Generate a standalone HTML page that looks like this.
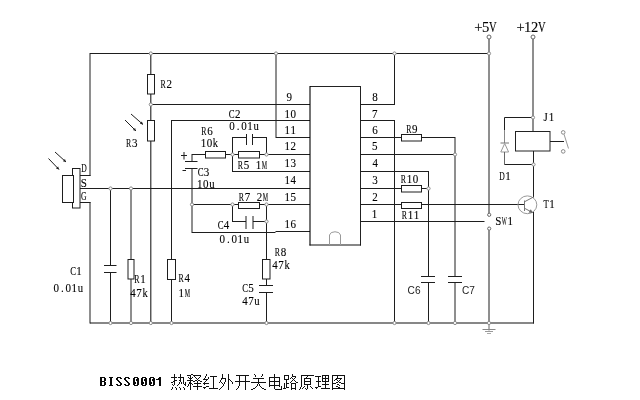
<!DOCTYPE html>
<html><head><meta charset="utf-8"><style>
html,body{margin:0;padding:0;background:#fff;width:640px;height:400px;overflow:hidden}
svg{display:block}
text{font-family:"Liberation Serif",serif;fill:#000;stroke:#000;stroke-width:0.12px}
</style></head><body><svg width="640" height="400" viewBox="0 0 640 400"><line x1="90" y1="53.5" x2="489" y2="53.5" stroke="#1e1e1e" stroke-width="1"/><line x1="90" y1="53" x2="90" y2="176" stroke="#1e1e1e" stroke-width="1"/><line x1="80" y1="175.5" x2="90.5" y2="175.5" stroke="#1e1e1e" stroke-width="1"/><line x1="80" y1="188.5" x2="310" y2="188.5" stroke="#1e1e1e" stroke-width="1"/><line x1="80" y1="202.5" x2="90.5" y2="202.5" stroke="#1e1e1e" stroke-width="1"/><line x1="90" y1="202" x2="90" y2="323.5" stroke="#1e1e1e" stroke-width="1"/><line x1="90" y1="323" x2="534" y2="323" stroke="#111" stroke-width="1.1"/><rect x="72.5" y="168.5" width="7.5" height="39.5" fill="#fff" stroke="#1e1e1e" stroke-width="1"/><rect x="62.5" y="175.5" width="11" height="27" fill="#fff" stroke="#1e1e1e" stroke-width="1"/><line x1="55" y1="152" x2="66" y2="162" stroke="#1e1e1e" stroke-width="1"/><polygon points="66,162 62.89,161.25 64.95,158.98" fill="#1e1e1e"/><line x1="48.5" y1="158.5" x2="59" y2="169.5" stroke="#1e1e1e" stroke-width="1"/><polygon points="59,169.5 55.95,168.53 58.17,166.41" fill="#1e1e1e"/><line x1="150.8" y1="53" x2="150.8" y2="323.5" stroke="#1e1e1e" stroke-width="1.1"/><rect x="147.5" y="74.5" width="7" height="19.5" fill="#fff" stroke="#1e1e1e" stroke-width="1"/><rect x="147.5" y="120.5" width="7" height="20.5" fill="#fff" stroke="#1e1e1e" stroke-width="1"/><line x1="131" y1="114" x2="143" y2="124.5" stroke="#1e1e1e" stroke-width="1"/><polygon points="143,124.5 139.88,123.81 141.90,121.50" fill="#1e1e1e"/><line x1="125" y1="120" x2="136" y2="131" stroke="#1e1e1e" stroke-width="1"/><polygon points="136,131 132.93,130.10 135.10,127.93" fill="#1e1e1e"/><line x1="150.8" y1="104.5" x2="310" y2="104.5" stroke="#1e1e1e" stroke-width="1"/><line x1="171.5" y1="120.5" x2="310" y2="120.5" stroke="#1e1e1e" stroke-width="1"/><line x1="171.5" y1="120" x2="171.5" y2="323.5" stroke="#1e1e1e" stroke-width="1"/><rect x="167.5" y="259.5" width="8" height="20" fill="#fff" stroke="#1e1e1e" stroke-width="1"/><line x1="276" y1="53" x2="276" y2="138" stroke="#1e1e1e" stroke-width="1"/><line x1="276" y1="137.5" x2="310" y2="137.5" stroke="#1e1e1e" stroke-width="1"/><line x1="110.5" y1="188" x2="110.5" y2="265.5" stroke="#1e1e1e" stroke-width="1"/><line x1="110.5" y1="272.5" x2="110.5" y2="323" stroke="#1e1e1e" stroke-width="1"/><line x1="104" y1="265.5" x2="116.5" y2="265.5" stroke="#1e1e1e" stroke-width="1"/><line x1="104" y1="272.5" x2="116.5" y2="272.5" stroke="#1e1e1e" stroke-width="1"/><line x1="131" y1="188" x2="131" y2="323" stroke="#1e1e1e" stroke-width="1"/><rect x="128" y="259.5" width="6" height="19.5" fill="#fff" stroke="#1e1e1e" stroke-width="1"/><line x1="192" y1="154.5" x2="310" y2="154.5" stroke="#1e1e1e" stroke-width="1"/><rect x="205.5" y="151.5" width="20" height="6.5" fill="#fff" stroke="#1e1e1e" stroke-width="1"/><rect x="238.5" y="151.5" width="21" height="6.5" fill="#fff" stroke="#1e1e1e" stroke-width="1"/><line x1="232.5" y1="137" x2="232.5" y2="171.5" stroke="#1e1e1e" stroke-width="1"/><line x1="232" y1="171.5" x2="310" y2="171.5" stroke="#1e1e1e" stroke-width="1"/><line x1="266.5" y1="137" x2="266.5" y2="154.5" stroke="#1e1e1e" stroke-width="1"/><line x1="232" y1="137.5" x2="246.5" y2="137.5" stroke="#1e1e1e" stroke-width="1"/><line x1="252.5" y1="137.5" x2="266.5" y2="137.5" stroke="#1e1e1e" stroke-width="1"/><line x1="246.5" y1="134" x2="246.5" y2="145" stroke="#1e1e1e" stroke-width="1"/><line x1="252.5" y1="134" x2="252.5" y2="145" stroke="#1e1e1e" stroke-width="1"/><line x1="192" y1="154" x2="192" y2="161.5" stroke="#1e1e1e" stroke-width="1"/><line x1="185" y1="161.5" x2="197.5" y2="161.5" stroke="#1e1e1e" stroke-width="1"/><line x1="185" y1="168.5" x2="197.5" y2="168.5" stroke="#1e1e1e" stroke-width="1"/><line x1="192" y1="168" x2="192" y2="233" stroke="#1e1e1e" stroke-width="1"/><line x1="181" y1="155.5" x2="187" y2="155.5" stroke="#1e1e1e" stroke-width="1"/><line x1="184" y1="152" x2="184" y2="159.5" stroke="#1e1e1e" stroke-width="1"/><line x1="182.5" y1="170.5" x2="186" y2="170.5" stroke="#1e1e1e" stroke-width="1"/><line x1="192" y1="204.5" x2="310" y2="204.5" stroke="#1e1e1e" stroke-width="1"/><rect x="238.5" y="202.5" width="21" height="6" fill="#fff" stroke="#1e1e1e" stroke-width="1"/><line x1="232.5" y1="204.5" x2="232.5" y2="222" stroke="#1e1e1e" stroke-width="1"/><line x1="232" y1="221.5" x2="246" y2="221.5" stroke="#1e1e1e" stroke-width="1"/><line x1="246" y1="216" x2="246" y2="229" stroke="#1e1e1e" stroke-width="1"/><line x1="253" y1="216" x2="253" y2="229" stroke="#1e1e1e" stroke-width="1"/><line x1="253" y1="221.5" x2="266.5" y2="221.5" stroke="#1e1e1e" stroke-width="1"/><line x1="266.5" y1="204.5" x2="266.5" y2="285.5" stroke="#1e1e1e" stroke-width="1"/><line x1="266.5" y1="292.5" x2="266.5" y2="323.5" stroke="#1e1e1e" stroke-width="1"/><rect x="262.5" y="259.5" width="7.5" height="19.5" fill="#fff" stroke="#1e1e1e" stroke-width="1"/><line x1="259" y1="285.5" x2="273" y2="285.5" stroke="#1e1e1e" stroke-width="1"/><line x1="259" y1="292.5" x2="273" y2="292.5" stroke="#1e1e1e" stroke-width="1"/><line x1="192" y1="232.5" x2="275.5" y2="232.5" stroke="#1e1e1e" stroke-width="1"/><line x1="275.5" y1="231.5" x2="310" y2="231.5" stroke="#1e1e1e" stroke-width="1"/><line x1="310" y1="86.5" x2="360.5" y2="86.5" stroke="#222" stroke-width="1"/><line x1="310" y1="86" x2="310" y2="245.5" stroke="#000" stroke-width="1.1"/><line x1="360.5" y1="86" x2="360.5" y2="245.5" stroke="#222" stroke-width="1"/><line x1="309.5" y1="245" x2="361" y2="245" stroke="#111" stroke-width="1.1"/><path d="M329.5,245 V235 A5.6,4 0 0 1 340.5,235 V245" fill="none" stroke="#999" stroke-width="1"/><line x1="360" y1="104.5" x2="394.5" y2="104.5" stroke="#1e1e1e" stroke-width="1"/><line x1="394.5" y1="53" x2="394.5" y2="105" stroke="#1e1e1e" stroke-width="1"/><line x1="360" y1="120.5" x2="394.5" y2="120.5" stroke="#1e1e1e" stroke-width="1"/><line x1="394.5" y1="120" x2="394.5" y2="323.5" stroke="#1e1e1e" stroke-width="1"/><line x1="360" y1="137.5" x2="455" y2="137.5" stroke="#1e1e1e" stroke-width="1"/><rect x="401.5" y="134.5" width="20" height="6.5" fill="#fff" stroke="#1e1e1e" stroke-width="1"/><line x1="360" y1="154.5" x2="455" y2="154.5" stroke="#1e1e1e" stroke-width="1"/><line x1="455" y1="137" x2="455" y2="276.5" stroke="#1e1e1e" stroke-width="1"/><line x1="455" y1="282.5" x2="455" y2="323.5" stroke="#1e1e1e" stroke-width="1"/><line x1="448" y1="276.5" x2="462" y2="276.5" stroke="#1e1e1e" stroke-width="1"/><line x1="448" y1="282.5" x2="462" y2="282.5" stroke="#1e1e1e" stroke-width="1"/><line x1="360" y1="171.5" x2="428.5" y2="171.5" stroke="#1e1e1e" stroke-width="1"/><line x1="428.5" y1="171" x2="428.5" y2="276.5" stroke="#1e1e1e" stroke-width="1"/><line x1="428.5" y1="282.5" x2="428.5" y2="323.5" stroke="#1e1e1e" stroke-width="1"/><line x1="421" y1="276.5" x2="435" y2="276.5" stroke="#1e1e1e" stroke-width="1"/><line x1="421" y1="282.5" x2="435" y2="282.5" stroke="#1e1e1e" stroke-width="1"/><line x1="360" y1="188.5" x2="428.5" y2="188.5" stroke="#1e1e1e" stroke-width="1"/><rect x="401.5" y="185.5" width="20" height="6.5" fill="#fff" stroke="#1e1e1e" stroke-width="1"/><line x1="360" y1="204.5" x2="524.5" y2="204.5" stroke="#1e1e1e" stroke-width="1"/><rect x="401.5" y="202.5" width="20" height="6" fill="#fff" stroke="#1e1e1e" stroke-width="1"/><line x1="360" y1="221.5" x2="484.5" y2="221.5" stroke="#1e1e1e" stroke-width="1"/><line x1="489" y1="39" x2="489" y2="213.2" stroke="#1e1e1e" stroke-width="1"/><line x1="489" y1="230.2" x2="489" y2="323.5" stroke="#1e1e1e" stroke-width="1"/><circle cx="489" cy="37" r="2" fill="#fff" stroke="#666" stroke-width="1"/><circle cx="489.2" cy="214.8" r="1.6" fill="#fff" stroke="#666" stroke-width="1"/><circle cx="489.2" cy="228.6" r="1.6" fill="#fff" stroke="#666" stroke-width="1"/><line x1="489" y1="324" x2="489" y2="330.5" stroke="#666" stroke-width="1"/><line x1="482.5" y1="329.5" x2="495.5" y2="329.5" stroke="#888" stroke-width="1"/><line x1="485" y1="331.5" x2="493" y2="331.5" stroke="#999" stroke-width="1"/><line x1="487" y1="333.5" x2="491" y2="333.5" stroke="#aaa" stroke-width="1"/><line x1="533" y1="39" x2="533" y2="131.5" stroke="#1e1e1e" stroke-width="1"/><circle cx="533" cy="37" r="2" fill="#fff" stroke="#666" stroke-width="1"/><line x1="504.5" y1="117.5" x2="533" y2="117.5" stroke="#1e1e1e" stroke-width="1"/><line x1="504.5" y1="117.5" x2="504.5" y2="130.5" stroke="#1e1e1e" stroke-width="1"/><line x1="504.5" y1="130.5" x2="504.5" y2="143" stroke="#888" stroke-width="1"/><line x1="500.5" y1="143" x2="509" y2="143" stroke="#777" stroke-width="1"/><polygon points="504.7,143.5 500.8,152 508.6,152" fill="#fff" stroke="#999" stroke-width="1"/><line x1="504.5" y1="152" x2="504.5" y2="164.5" stroke="#666" stroke-width="1"/><line x1="504.5" y1="164.5" x2="533.5" y2="164.5" stroke="#1e1e1e" stroke-width="1"/><rect x="515.5" y="131.5" width="34.5" height="19.5" fill="#fff" stroke="#222" stroke-width="1"/><line x1="533.5" y1="151" x2="533.5" y2="197.5" stroke="#1e1e1e" stroke-width="1"/><line x1="550" y1="141.5" x2="564" y2="141.5" stroke="#1e1e1e" stroke-width="1"/><circle cx="563.2" cy="132.4" r="1.8" fill="#fff" stroke="#888" stroke-width="1"/><circle cx="563.2" cy="151.4" r="1.8" fill="#fff" stroke="#888" stroke-width="1"/><line x1="564" y1="134.2" x2="568.5" y2="148.5" stroke="#999" stroke-width="1"/><ellipse cx="527.4" cy="204.8" rx="9.4" ry="8.9" fill="none" stroke="#999" stroke-width="1"/><line x1="524.5" y1="200.5" x2="524.5" y2="211" stroke="#777" stroke-width="1"/><line x1="525" y1="201.5" x2="533.5" y2="197" stroke="#777" stroke-width="1"/><line x1="525" y1="208.5" x2="532.5" y2="212.5" stroke="#777" stroke-width="1"/><polygon points="533,213 528.6,212.4 530.8,209.2" fill="#666"/><line x1="533.5" y1="212" x2="533.5" y2="323.5" stroke="#1e1e1e" stroke-width="1"/><circle cx="150.8" cy="53.5" r="1.6" fill="#fff" stroke="#8a8a8a" stroke-width="1"/><circle cx="276" cy="53.5" r="1.6" fill="#fff" stroke="#8a8a8a" stroke-width="1"/><circle cx="394.5" cy="53.5" r="1.6" fill="#fff" stroke="#8a8a8a" stroke-width="1"/><circle cx="489" cy="53.5" r="1.6" fill="#fff" stroke="#8a8a8a" stroke-width="1"/><circle cx="150.8" cy="104.5" r="1.6" fill="#fff" stroke="#8a8a8a" stroke-width="1"/><circle cx="110.5" cy="188.5" r="1.6" fill="#fff" stroke="#8a8a8a" stroke-width="1"/><circle cx="131" cy="188.5" r="1.6" fill="#fff" stroke="#8a8a8a" stroke-width="1"/><circle cx="232.5" cy="154.5" r="1.6" fill="#fff" stroke="#8a8a8a" stroke-width="1"/><circle cx="266.5" cy="154.5" r="1.6" fill="#fff" stroke="#8a8a8a" stroke-width="1"/><circle cx="192" cy="204.5" r="1.6" fill="#fff" stroke="#8a8a8a" stroke-width="1"/><circle cx="232.5" cy="204.5" r="1.6" fill="#fff" stroke="#8a8a8a" stroke-width="1"/><circle cx="266.5" cy="204.5" r="1.6" fill="#fff" stroke="#8a8a8a" stroke-width="1"/><circle cx="266.5" cy="221.5" r="1.6" fill="#fff" stroke="#8a8a8a" stroke-width="1"/><circle cx="455" cy="154.5" r="1.6" fill="#fff" stroke="#8a8a8a" stroke-width="1"/><circle cx="428.5" cy="188.5" r="1.6" fill="#fff" stroke="#8a8a8a" stroke-width="1"/><circle cx="533" cy="117.5" r="1.6" fill="#fff" stroke="#8a8a8a" stroke-width="1"/><circle cx="533.5" cy="164.5" r="1.6" fill="#fff" stroke="#8a8a8a" stroke-width="1"/><circle cx="110.5" cy="323" r="1.6" fill="#fff" stroke="#8a8a8a" stroke-width="1"/><circle cx="131" cy="323" r="1.6" fill="#fff" stroke="#8a8a8a" stroke-width="1"/><circle cx="150.8" cy="323" r="1.6" fill="#fff" stroke="#8a8a8a" stroke-width="1"/><circle cx="171.5" cy="323" r="1.6" fill="#fff" stroke="#8a8a8a" stroke-width="1"/><circle cx="266.5" cy="323" r="1.6" fill="#fff" stroke="#8a8a8a" stroke-width="1"/><circle cx="394.5" cy="323" r="1.6" fill="#fff" stroke="#8a8a8a" stroke-width="1"/><circle cx="428.5" cy="323" r="1.6" fill="#fff" stroke="#8a8a8a" stroke-width="1"/><circle cx="455" cy="323" r="1.6" fill="#fff" stroke="#8a8a8a" stroke-width="1"/><circle cx="489" cy="323" r="1.6" fill="#fff" stroke="#8a8a8a" stroke-width="1"/><path d="M174,374h1v1h-1zM180,374h1v1h-1zM191,374h2v1h-2zM206,374h1v1h-1zM222,374h1v1h-1zM228,374h1v1h-1zM254,374h1v1h-1zM262,374h1v1h-1zM274,374h1v1h-1zM292,374h1v1h-1zM174,375h1v1h-1zM180,375h1v1h-1zM187,375h4v1h-4zM193,375h8v1h-8zM206,375h1v1h-1zM222,375h1v1h-1zM228,375h1v1h-1zM236,375h13v1h-13zM255,375h1v1h-1zM262,375h1v1h-1zM274,375h1v1h-1zM284,375h5v1h-5zM292,375h1v1h-1zM301,375h13v1h-13zM322,375h7v1h-7zM332,375h13v1h-13zM174,376h1v1h-1zM180,376h1v1h-1zM190,376h1v1h-1zM194,376h1v1h-1zM200,376h1v1h-1zM205,376h1v1h-1zM210,376h7v1h-7zM222,376h1v1h-1zM228,376h1v1h-1zM239,376h1v1h-1zM245,376h1v1h-1zM255,376h1v1h-1zM261,376h1v1h-1zM274,376h1v1h-1zM284,376h1v1h-1zM288,376h1v1h-1zM292,376h4v1h-4zM301,376h1v1h-1zM307,376h1v1h-1zM315,376h6v1h-6zM322,376h1v1h-1zM325,376h1v1h-1zM328,376h1v1h-1zM332,376h1v1h-1zM337,376h1v1h-1zM344,376h1v1h-1zM171,377h6v1h-6zM178,377h6v1h-6zM188,377h1v1h-1zM190,377h1v1h-1zM192,377h1v1h-1zM195,377h1v1h-1zM199,377h1v1h-1zM205,377h1v1h-1zM208,377h1v1h-1zM213,377h1v1h-1zM222,377h1v1h-1zM228,377h1v1h-1zM239,377h1v1h-1zM245,377h1v1h-1zM269,377h11v1h-11zM284,377h1v1h-1zM288,377h1v1h-1zM291,377h1v1h-1zM295,377h1v1h-1zM301,377h1v1h-1zM306,377h1v1h-1zM318,377h1v1h-1zM322,377h1v1h-1zM325,377h1v1h-1zM328,377h1v1h-1zM332,377h1v1h-1zM337,377h1v1h-1zM344,377h1v1h-1zM174,378h1v1h-1zM180,378h1v1h-1zM183,378h1v1h-1zM189,378h3v1h-3zM196,378h1v1h-1zM198,378h1v1h-1zM204,378h1v1h-1zM208,378h1v1h-1zM213,378h1v1h-1zM221,378h5v1h-5zM228,378h1v1h-1zM239,378h1v1h-1zM245,378h1v1h-1zM253,378h11v1h-11zM269,378h1v1h-1zM274,378h1v1h-1zM279,378h1v1h-1zM284,378h1v1h-1zM288,378h1v1h-1zM290,378h1v1h-1zM292,378h1v1h-1zM294,378h1v1h-1zM301,378h1v1h-1zM304,378h7v1h-7zM318,378h1v1h-1zM322,378h7v1h-7zM332,378h1v1h-1zM336,378h6v1h-6zM344,378h1v1h-1zM174,379h1v1h-1zM180,379h1v1h-1zM183,379h1v1h-1zM190,379h1v1h-1zM197,379h1v1h-1zM203,379h5v1h-5zM213,379h1v1h-1zM221,379h1v1h-1zM225,379h1v1h-1zM228,379h2v1h-2zM239,379h1v1h-1zM245,379h1v1h-1zM258,379h1v1h-1zM269,379h1v1h-1zM274,379h1v1h-1zM279,379h1v1h-1zM284,379h5v1h-5zM293,379h1v1h-1zM301,379h1v1h-1zM304,379h1v1h-1zM310,379h1v1h-1zM318,379h1v1h-1zM322,379h1v1h-1zM325,379h1v1h-1zM328,379h1v1h-1zM332,379h1v1h-1zM335,379h2v1h-2zM340,379h1v1h-1zM344,379h1v1h-1zM174,380h3v1h-3zM179,380h2v1h-2zM183,380h1v1h-1zM187,380h6v1h-6zM195,380h2v1h-2zM198,380h2v1h-2zM206,380h1v1h-1zM213,380h1v1h-1zM220,380h1v1h-1zM225,380h1v1h-1zM228,380h1v1h-1zM230,380h1v1h-1zM239,380h1v1h-1zM245,380h1v1h-1zM258,380h1v1h-1zM269,380h1v1h-1zM274,380h1v1h-1zM279,380h1v1h-1zM286,380h1v1h-1zM292,380h1v1h-1zM294,380h1v1h-1zM301,380h1v1h-1zM304,380h1v1h-1zM310,380h1v1h-1zM318,380h1v1h-1zM322,380h1v1h-1zM325,380h1v1h-1zM328,380h1v1h-1zM332,380h1v1h-1zM334,380h1v1h-1zM337,380h1v1h-1zM339,380h1v1h-1zM344,380h1v1h-1zM173,381h2v1h-2zM180,381h1v1h-1zM183,381h1v1h-1zM190,381h1v1h-1zM193,381h2v1h-2zM197,381h1v1h-1zM200,381h2v1h-2zM205,381h1v1h-1zM213,381h1v1h-1zM220,381h1v1h-1zM225,381h1v1h-1zM228,381h1v1h-1zM231,381h1v1h-1zM235,381h15v1h-15zM258,381h1v1h-1zM269,381h11v1h-11zM286,381h1v1h-1zM291,381h1v1h-1zM295,381h1v1h-1zM301,381h1v1h-1zM304,381h7v1h-7zM316,381h5v1h-5zM322,381h7v1h-7zM332,381h1v1h-1zM338,381h1v1h-1zM344,381h1v1h-1zM171,382h2v1h-2zM174,382h1v1h-1zM179,382h1v1h-1zM181,382h1v1h-1zM183,382h1v1h-1zM185,382h1v1h-1zM189,382h2v1h-2zM197,382h1v1h-1zM204,382h1v1h-1zM213,382h1v1h-1zM219,382h1v1h-1zM221,382h1v1h-1zM224,382h1v1h-1zM228,382h1v1h-1zM232,382h1v1h-1zM239,382h1v1h-1zM245,382h1v1h-1zM251,382h15v1h-15zM269,382h1v1h-1zM274,382h1v1h-1zM279,382h1v1h-1zM286,382h1v1h-1zM290,382h1v1h-1zM296,382h2v1h-2zM301,382h1v1h-1zM304,382h1v1h-1zM310,382h1v1h-1zM318,382h1v1h-1zM325,382h1v1h-1zM332,382h1v1h-1zM336,382h2v1h-2zM339,382h2v1h-2zM344,382h1v1h-1zM174,383h1v1h-1zM179,383h1v1h-1zM181,383h1v1h-1zM183,383h1v1h-1zM185,383h1v1h-1zM189,383h3v1h-3zM194,383h7v1h-7zM203,383h6v1h-6zM213,383h1v1h-1zM222,383h1v1h-1zM224,383h1v1h-1zM228,383h1v1h-1zM232,383h1v1h-1zM239,383h1v1h-1zM245,383h1v1h-1zM258,383h1v1h-1zM269,383h1v1h-1zM274,383h1v1h-1zM279,383h1v1h-1zM284,383h1v1h-1zM286,383h3v1h-3zM291,383h5v1h-5zM301,383h1v1h-1zM304,383h1v1h-1zM310,383h1v1h-1zM318,383h1v1h-1zM325,383h1v1h-1zM332,383h4v1h-4zM341,383h4v1h-4zM172,384h1v1h-1zM174,384h1v1h-1zM178,384h1v1h-1zM184,384h2v1h-2zM188,384h1v1h-1zM190,384h1v1h-1zM192,384h1v1h-1zM197,384h1v1h-1zM204,384h1v1h-1zM213,384h1v1h-1zM223,384h1v1h-1zM228,384h1v1h-1zM239,384h1v1h-1zM245,384h1v1h-1zM257,384h1v1h-1zM259,384h1v1h-1zM269,384h1v1h-1zM274,384h1v1h-1zM279,384h1v1h-1zM284,384h1v1h-1zM286,384h1v1h-1zM291,384h1v1h-1zM295,384h1v1h-1zM301,384h1v1h-1zM304,384h7v1h-7zM318,384h1v1h-1zM322,384h7v1h-7zM332,384h1v1h-1zM337,384h2v1h-2zM344,384h1v1h-1zM173,385h1v1h-1zM177,385h1v1h-1zM185,385h1v1h-1zM188,385h1v1h-1zM190,385h1v1h-1zM197,385h1v1h-1zM213,385h1v1h-1zM223,385h1v1h-1zM228,385h1v1h-1zM239,385h1v1h-1zM245,385h1v1h-1zM257,385h1v1h-1zM259,385h1v1h-1zM269,385h11v1h-11zM284,385h1v1h-1zM286,385h1v1h-1zM291,385h1v1h-1zM295,385h1v1h-1zM301,385h1v1h-1zM307,385h1v1h-1zM318,385h1v1h-1zM325,385h1v1h-1zM332,385h1v1h-1zM339,385h1v1h-1zM344,385h1v1h-1zM187,386h1v1h-1zM190,386h1v1h-1zM193,386h9v1h-9zM206,386h3v1h-3zM213,386h1v1h-1zM222,386h1v1h-1zM228,386h1v1h-1zM238,386h1v1h-1zM245,386h1v1h-1zM256,386h1v1h-1zM260,386h1v1h-1zM269,386h1v1h-1zM274,386h1v1h-1zM279,386h1v1h-1zM281,386h1v1h-1zM284,386h1v1h-1zM286,386h1v1h-1zM291,386h1v1h-1zM295,386h1v1h-1zM301,386h1v1h-1zM304,386h1v1h-1zM307,386h1v1h-1zM310,386h1v1h-1zM318,386h3v1h-3zM325,386h1v1h-1zM332,386h1v1h-1zM336,386h2v1h-2zM344,386h1v1h-1zM172,387h1v1h-1zM175,387h1v1h-1zM179,387h1v1h-1zM183,387h1v1h-1zM190,387h1v1h-1zM197,387h1v1h-1zM203,387h3v1h-3zM213,387h1v1h-1zM221,387h1v1h-1zM228,387h1v1h-1zM238,387h1v1h-1zM245,387h1v1h-1zM255,387h1v1h-1zM261,387h1v1h-1zM274,387h1v1h-1zM281,387h1v1h-1zM284,387h1v1h-1zM286,387h3v1h-3zM291,387h1v1h-1zM295,387h1v1h-1zM300,387h1v1h-1zM303,387h1v1h-1zM307,387h1v1h-1zM311,387h1v1h-1zM315,387h3v1h-3zM325,387h1v1h-1zM332,387h1v1h-1zM338,387h2v1h-2zM344,387h1v1h-1zM172,388h1v1h-1zM176,388h1v1h-1zM180,388h1v1h-1zM184,388h1v1h-1zM190,388h1v1h-1zM197,388h1v1h-1zM204,388h1v1h-1zM209,388h9v1h-9zM220,388h1v1h-1zM228,388h1v1h-1zM237,388h1v1h-1zM245,388h1v1h-1zM253,388h2v1h-2zM262,388h2v1h-2zM274,388h1v1h-1zM281,388h1v1h-1zM283,388h3v1h-3zM291,388h5v1h-5zM300,388h1v1h-1zM302,388h1v1h-1zM305,388h1v1h-1zM307,388h1v1h-1zM312,388h1v1h-1zM316,388h1v1h-1zM321,388h9v1h-9zM332,388h13v1h-13zM171,389h1v1h-1zM176,389h1v1h-1zM180,389h1v1h-1zM184,389h1v1h-1zM190,389h1v1h-1zM197,389h1v1h-1zM219,389h1v1h-1zM228,389h1v1h-1zM236,389h1v1h-1zM245,389h1v1h-1zM251,389h2v1h-2zM264,389h2v1h-2zM275,389h7v1h-7zM291,389h1v1h-1zM295,389h1v1h-1zM299,389h1v1h-1zM306,389h1v1h-1zM332,389h1v1h-1zM344,389h1v1h-1z" fill="#111"/><path d="M100,377h5v1h-5zM100,378h2v1h-2zM104,378h2v1h-2zM100,379h2v1h-2zM104,379h2v1h-2zM100,380h2v1h-2zM104,380h2v1h-2zM100,381h5v1h-5zM100,382h2v1h-2zM104,382h2v1h-2zM100,383h2v1h-2zM104,383h2v1h-2zM100,384h2v1h-2zM104,384h2v1h-2zM100,385h5v1h-5zM109,377h4v1h-4zM110,378h2v1h-2zM110,379h2v1h-2zM110,380h2v1h-2zM110,381h2v1h-2zM110,382h2v1h-2zM110,383h2v1h-2zM110,384h2v1h-2zM109,385h4v1h-4zM117,377h4v1h-4zM116,378h2v1h-2zM120,378h2v1h-2zM116,379h2v1h-2zM117,380h2v1h-2zM118,381h2v1h-2zM119,382h2v1h-2zM120,383h2v1h-2zM116,384h2v1h-2zM120,384h2v1h-2zM117,385h4v1h-4zM125,377h4v1h-4zM124,378h2v1h-2zM128,378h2v1h-2zM124,379h2v1h-2zM125,380h2v1h-2zM126,381h2v1h-2zM127,382h2v1h-2zM128,383h2v1h-2zM124,384h2v1h-2zM128,384h2v1h-2zM125,385h4v1h-4zM134,377h4v1h-4zM133,378h2v1h-2zM137,378h2v1h-2zM133,379h2v1h-2zM136,379h3v1h-3zM133,380h2v1h-2zM136,380h3v1h-3zM133,381h2v1h-2zM137,381h2v1h-2zM133,382h3v1h-3zM137,382h2v1h-2zM133,383h3v1h-3zM137,383h2v1h-2zM133,384h2v1h-2zM137,384h2v1h-2zM134,385h4v1h-4zM142,377h4v1h-4zM141,378h2v1h-2zM145,378h2v1h-2zM141,379h2v1h-2zM144,379h3v1h-3zM141,380h2v1h-2zM144,380h3v1h-3zM141,381h2v1h-2zM145,381h2v1h-2zM141,382h3v1h-3zM145,382h2v1h-2zM141,383h3v1h-3zM145,383h2v1h-2zM141,384h2v1h-2zM145,384h2v1h-2zM142,385h4v1h-4zM150,377h4v1h-4zM149,378h2v1h-2zM153,378h2v1h-2zM149,379h2v1h-2zM152,379h3v1h-3zM149,380h2v1h-2zM152,380h3v1h-3zM149,381h2v1h-2zM153,381h2v1h-2zM149,382h3v1h-3zM153,382h2v1h-2zM149,383h3v1h-3zM153,383h2v1h-2zM149,384h2v1h-2zM153,384h2v1h-2zM150,385h4v1h-4zM159,377h2v1h-2zM158,378h3v1h-3zM156,379h5v1h-5zM159,380h2v1h-2zM159,381h2v1h-2zM159,382h2v1h-2zM159,383h2v1h-2zM159,384h2v1h-2zM159,385h2v1h-2z" fill="#0a0a0a"/><g opacity="0.999"><text transform="translate(163.18,88) scale(0.656,1)" text-anchor="middle" font-size="12.0">R</text><text transform="translate(169.18,88) scale(0.920,1)" text-anchor="middle" font-size="12.0">2</text><text transform="translate(128.68,147) scale(0.656,1)" text-anchor="middle" font-size="12.0">R</text><text transform="translate(134.68,147) scale(0.920,1)" text-anchor="middle" font-size="12.0">3</text><text transform="translate(231.65,118) scale(0.727,1)" text-anchor="middle" font-size="12.0">C</text><text transform="translate(237.65,118) scale(0.920,1)" text-anchor="middle" font-size="12.0">2</text><text transform="translate(232.10,130) scale(0.920,1)" text-anchor="middle" font-size="12.0">0</text><text transform="translate(238.10,130) scale(0.920,1)" text-anchor="middle" font-size="12.0">.</text><text transform="translate(244.10,130) scale(0.920,1)" text-anchor="middle" font-size="12.0">0</text><text transform="translate(250.10,130) scale(0.920,1)" text-anchor="middle" font-size="12.0">1</text><text transform="translate(256.10,130) scale(0.889,1)" text-anchor="middle" font-size="12.0">u</text><text transform="translate(203.98,134.5) scale(0.656,1)" text-anchor="middle" font-size="12.0">R</text><text transform="translate(209.98,134.5) scale(0.920,1)" text-anchor="middle" font-size="12.0">6</text><text transform="translate(203.44,146.6) scale(0.920,1)" text-anchor="middle" font-size="12.0">1</text><text transform="translate(209.44,146.6) scale(0.920,1)" text-anchor="middle" font-size="12.0">0</text><text transform="translate(215.44,146.6) scale(0.870,1)" text-anchor="middle" font-size="12.0">k</text><text transform="translate(240.38,169) scale(0.656,1)" text-anchor="middle" font-size="12.0">R</text><text transform="translate(246.38,169) scale(0.920,1)" text-anchor="middle" font-size="12.0">5</text><text transform="translate(258.38,169) scale(0.920,1)" text-anchor="middle" font-size="12.0">1</text><text transform="translate(264.38,169) scale(0.500,1)" text-anchor="middle" font-size="12.0">M</text><text transform="translate(200.55,176.4) scale(0.727,1)" text-anchor="middle" font-size="12.0">C</text><text transform="translate(206.55,176.4) scale(0.920,1)" text-anchor="middle" font-size="12.0">3</text><text transform="translate(199.84,187.6) scale(0.920,1)" text-anchor="middle" font-size="12.0">1</text><text transform="translate(205.84,187.6) scale(0.920,1)" text-anchor="middle" font-size="12.0">0</text><text transform="translate(211.84,187.6) scale(0.889,1)" text-anchor="middle" font-size="12.0">u</text><text transform="translate(241.38,201) scale(0.656,1)" text-anchor="middle" font-size="12.0">R</text><text transform="translate(247.38,201) scale(0.920,1)" text-anchor="middle" font-size="12.0">7</text><text transform="translate(259.38,201) scale(0.920,1)" text-anchor="middle" font-size="12.0">2</text><text transform="translate(265.38,201) scale(0.500,1)" text-anchor="middle" font-size="12.0">M</text><text transform="translate(220.55,229.4) scale(0.727,1)" text-anchor="middle" font-size="12.0">C</text><text transform="translate(226.55,229.4) scale(0.909,1)" text-anchor="middle" font-size="12.0">4</text><text transform="translate(222.30,242.6) scale(0.920,1)" text-anchor="middle" font-size="12.0">0</text><text transform="translate(228.30,242.6) scale(0.920,1)" text-anchor="middle" font-size="12.0">.</text><text transform="translate(234.30,242.6) scale(0.920,1)" text-anchor="middle" font-size="12.0">0</text><text transform="translate(240.30,242.6) scale(0.920,1)" text-anchor="middle" font-size="12.0">1</text><text transform="translate(246.30,242.6) scale(0.889,1)" text-anchor="middle" font-size="12.0">u</text><text transform="translate(277.38,256.3) scale(0.656,1)" text-anchor="middle" font-size="12.0">R</text><text transform="translate(283.38,256.3) scale(0.920,1)" text-anchor="middle" font-size="12.0">8</text><text transform="translate(275.00,268.8) scale(0.909,1)" text-anchor="middle" font-size="12.0">4</text><text transform="translate(281.00,268.8) scale(0.920,1)" text-anchor="middle" font-size="12.0">7</text><text transform="translate(287.00,268.8) scale(0.870,1)" text-anchor="middle" font-size="12.0">k</text><text transform="translate(245.05,292) scale(0.727,1)" text-anchor="middle" font-size="12.0">C</text><text transform="translate(251.05,292) scale(0.920,1)" text-anchor="middle" font-size="12.0">5</text><text transform="translate(245.00,304.5) scale(0.909,1)" text-anchor="middle" font-size="12.0">4</text><text transform="translate(251.00,304.5) scale(0.920,1)" text-anchor="middle" font-size="12.0">7</text><text transform="translate(257.00,304.5) scale(0.889,1)" text-anchor="middle" font-size="12.0">u</text><text transform="translate(181.18,282) scale(0.656,1)" text-anchor="middle" font-size="12.0">R</text><text transform="translate(187.18,282) scale(0.909,1)" text-anchor="middle" font-size="12.0">4</text><text transform="translate(181.34,297) scale(0.920,1)" text-anchor="middle" font-size="12.0">1</text><text transform="translate(187.34,297) scale(0.500,1)" text-anchor="middle" font-size="12.0">M</text><text transform="translate(73.05,275) scale(0.727,1)" text-anchor="middle" font-size="12.0">C</text><text transform="translate(79.05,275) scale(0.920,1)" text-anchor="middle" font-size="12.0">1</text><text transform="translate(56.30,292) scale(0.920,1)" text-anchor="middle" font-size="12.0">0</text><text transform="translate(62.30,292) scale(0.920,1)" text-anchor="middle" font-size="12.0">.</text><text transform="translate(68.30,292) scale(0.920,1)" text-anchor="middle" font-size="12.0">0</text><text transform="translate(74.30,292) scale(0.920,1)" text-anchor="middle" font-size="12.0">1</text><text transform="translate(80.30,292) scale(0.889,1)" text-anchor="middle" font-size="12.0">u</text><text transform="translate(136.88,283) scale(0.656,1)" text-anchor="middle" font-size="12.0">R</text><text transform="translate(142.88,283) scale(0.920,1)" text-anchor="middle" font-size="12.0">1</text><text transform="translate(133.00,297) scale(0.909,1)" text-anchor="middle" font-size="12.0">4</text><text transform="translate(139.00,297) scale(0.920,1)" text-anchor="middle" font-size="12.0">7</text><text transform="translate(145.00,297) scale(0.870,1)" text-anchor="middle" font-size="12.0">k</text><text transform="translate(83.94,172) scale(0.635,1)" text-anchor="middle" font-size="12.0">D</text><text transform="translate(83.70,187) scale(0.920,1)" text-anchor="middle" font-size="12.0">S</text><text transform="translate(83.86,200) scale(0.635,1)" text-anchor="middle" font-size="12.0">G</text><text transform="translate(408.78,133) scale(0.656,1)" text-anchor="middle" font-size="12.0">R</text><text transform="translate(414.78,133) scale(0.920,1)" text-anchor="middle" font-size="12.0">9</text><text transform="translate(403.38,183) scale(0.656,1)" text-anchor="middle" font-size="12.0">R</text><text transform="translate(409.38,183) scale(0.920,1)" text-anchor="middle" font-size="12.0">1</text><text transform="translate(415.38,183) scale(0.920,1)" text-anchor="middle" font-size="12.0">0</text><text transform="translate(404.38,218.6) scale(0.656,1)" text-anchor="middle" font-size="12.0">R</text><text transform="translate(410.38,218.6) scale(0.920,1)" text-anchor="middle" font-size="12.0">1</text><text transform="translate(416.38,218.6) scale(0.920,1)" text-anchor="middle" font-size="12.0">1</text><text transform="translate(498.30,224.8) scale(0.920,1)" text-anchor="middle" font-size="12.0">S</text><text transform="translate(504.30,224.8) scale(0.444,1)" text-anchor="middle" font-size="12.0">W</text><text transform="translate(510.30,224.8) scale(0.920,1)" text-anchor="middle" font-size="12.0">1</text><text transform="translate(502.04,180) scale(0.635,1)" text-anchor="middle" font-size="12.0">D</text><text transform="translate(508.04,180) scale(0.920,1)" text-anchor="middle" font-size="12.0">1</text><text transform="translate(545.56,121) scale(0.920,1)" text-anchor="middle" font-size="12.0">J</text><text transform="translate(551.56,121) scale(0.920,1)" text-anchor="middle" font-size="12.0">1</text><text transform="translate(546.10,208) scale(0.714,1)" text-anchor="middle" font-size="12.0">T</text><text transform="translate(552.10,208) scale(0.920,1)" text-anchor="middle" font-size="12.0">1</text><text transform="translate(289.22,101) scale(0.920,1)" text-anchor="middle" font-size="12.0">9</text><text transform="translate(287.24,117.7) scale(0.920,1)" text-anchor="middle" font-size="12.0">1</text><text transform="translate(293.24,117.7) scale(0.920,1)" text-anchor="middle" font-size="12.0">0</text><text transform="translate(287.24,134) scale(0.920,1)" text-anchor="middle" font-size="12.0">1</text><text transform="translate(293.24,134) scale(0.920,1)" text-anchor="middle" font-size="12.0">1</text><text transform="translate(287.24,150.2) scale(0.920,1)" text-anchor="middle" font-size="12.0">1</text><text transform="translate(293.24,150.2) scale(0.920,1)" text-anchor="middle" font-size="12.0">2</text><text transform="translate(287.24,167) scale(0.920,1)" text-anchor="middle" font-size="12.0">1</text><text transform="translate(293.24,167) scale(0.920,1)" text-anchor="middle" font-size="12.0">3</text><text transform="translate(287.24,184) scale(0.920,1)" text-anchor="middle" font-size="12.0">1</text><text transform="translate(293.24,184) scale(0.909,1)" text-anchor="middle" font-size="12.0">4</text><text transform="translate(287.24,201) scale(0.920,1)" text-anchor="middle" font-size="12.0">1</text><text transform="translate(293.24,201) scale(0.920,1)" text-anchor="middle" font-size="12.0">5</text><text transform="translate(287.24,228.4) scale(0.920,1)" text-anchor="middle" font-size="12.0">1</text><text transform="translate(293.24,228.4) scale(0.920,1)" text-anchor="middle" font-size="12.0">6</text><text transform="translate(375.00,100.6) scale(0.920,1)" text-anchor="middle" font-size="12.0">8</text><text transform="translate(374.77,117.7) scale(0.920,1)" text-anchor="middle" font-size="12.0">7</text><text transform="translate(375.00,134) scale(0.920,1)" text-anchor="middle" font-size="12.0">6</text><text transform="translate(374.77,150.2) scale(0.920,1)" text-anchor="middle" font-size="12.0">5</text><text transform="translate(375.20,167) scale(0.909,1)" text-anchor="middle" font-size="12.0">4</text><text transform="translate(374.88,184) scale(0.920,1)" text-anchor="middle" font-size="12.0">3</text><text transform="translate(375.00,201) scale(0.920,1)" text-anchor="middle" font-size="12.0">2</text><text transform="translate(374.54,218) scale(0.920,1)" text-anchor="middle" font-size="12.0">1</text><text transform="translate(478.35,31.6) scale(1.000,1)" text-anchor="middle" font-size="14.6">+</text><text transform="translate(485.55,31.6) scale(1.000,1)" text-anchor="middle" font-size="14.6">5</text><text transform="translate(492.75,31.6) scale(0.726,1)" text-anchor="middle" font-size="14.6">V</text><text transform="translate(520.65,31.6) scale(1.000,1)" text-anchor="middle" font-size="14.6">+</text><text transform="translate(527.70,31.6) scale(1.000,1)" text-anchor="middle" font-size="14.6">1</text><text transform="translate(534.75,31.6) scale(1.000,1)" text-anchor="middle" font-size="14.6">2</text><text transform="translate(541.80,31.6) scale(0.726,1)" text-anchor="middle" font-size="14.6">V</text><text x="407.6" y="294.4" font-size="10.1" style="font-family:Liberation Sans,sans-serif;stroke:none;fill:#222">C6</text><text x="461.9" y="294.4" font-size="10.1" style="font-family:Liberation Sans,sans-serif;stroke:none;fill:#222">C7</text></g></svg></body></html>
